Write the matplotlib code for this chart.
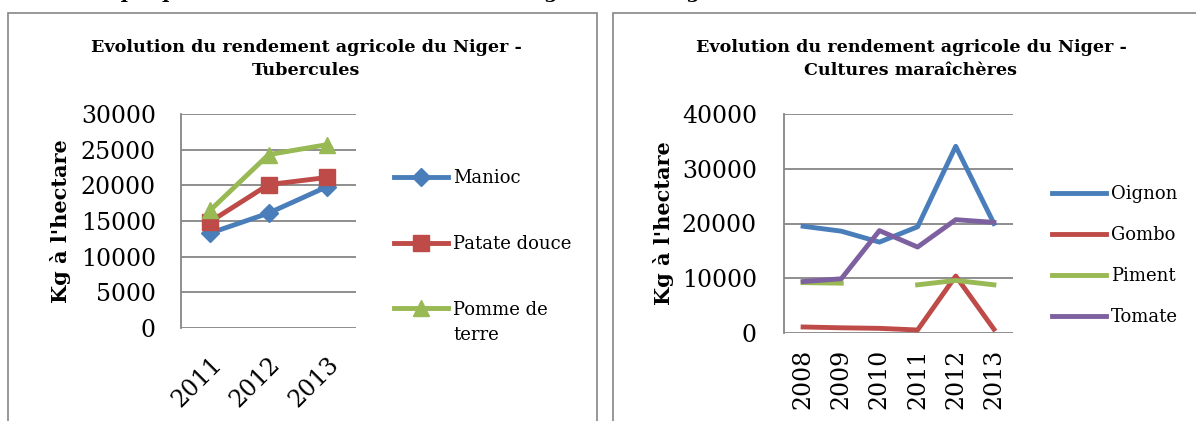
import matplotlib
matplotlib.use('Agg')
import matplotlib.pyplot as plt
from matplotlib.patches import Rectangle
import numpy as np

plt.rcParams['font.family'] = 'DejaVu Serif'

# tubercules
years_tub = ['2011', '2012', '2013']
manioc = [13300, 16100, 19800]
patate_douce = [14900, 20100, 21100]
pomme_de_terre = [16500, 24300, 25700]

# cultures maraicheres
years_mar = ['2008', '2009', '2010', '2011', '2012', '2013']
oignon = [19500, 18600, 16600, 19400, 34100, 20000]
gombo = [1100, 950, 850, 550, 10400, 700]
piment = [9200, 9100, np.nan, 8800, 9600, 8800]
tomate = [9400, 9900, 18700, 15700, 20700, 20200]

blue = '#4A7EBB'
red = '#BE4B48'
green = '#98B954'
purple = '#7D60A0'
grid_col = '#868686'

W, H = 1196, 421
fig = plt.figure(figsize=(W / 100, H / 100), dpi=100)


def fx(px):
    return px / W


def fy(py):
    return 1 - py / H


# panel frames
fig.patches.append(Rectangle((fx(8), fy(440)), fx(597 - 8), fy(13) - fy(440),
                             transform=fig.transFigure, fill=False,
                             edgecolor=grid_col, lw=1.2))
fig.patches.append(Rectangle((fx(613), fy(440)), fx(620), fy(13) - fy(440),
                             transform=fig.transFigure, fill=False,
                             edgecolor=grid_col, lw=1.2))

# main title, cut off at the top of the picture
fig.text(fx(608), 1 + 2 / H,
         'Graphique n°1 : Evolution du rendement agricole du Niger - Tubercules et Cultures maraîchères',
         ha='center', va='baseline', fontsize=14, fontweight='bold')

# chart titles
fig.text(fx(306), fy(59), "Evolution du rendement agricole du Niger -\nTubercules",
         ha='center', va='center', fontsize=12.6, fontweight='bold', linespacing=1.4)
fig.text(fx(911), fy(59), "Evolution du rendement agricole du Niger -\nCultures maraîchères",
         ha='center', va='center', fontsize=12.6, fontweight='bold', linespacing=1.4)


def style_axes(ax, ymax, step, ypad, label_x):
    ax.set_ylim(0, ymax)
    ax.set_yticks(np.arange(0, ymax + 1, step))
    ax.yaxis.grid(True, color=grid_col, lw=1.3)
    ax.set_axisbelow(True)
    for s in ['top', 'right', 'bottom']:
        ax.spines[s].set_visible(False)
    ax.spines['left'].set_color(grid_col)
    ax.spines['left'].set_linewidth(1.3)
    ax.tick_params(length=0, labelsize=17)
    ax.tick_params(axis='y', pad=ypad)
    ax.set_ylabel("Kg à l'hectare", fontsize=15, fontweight='bold')
    ax.yaxis.set_label_coords(label_x, 0.5)


# left chart
ax1 = fig.add_axes([fx(181), fy(328), fx(356 - 181), fy(114) - fy(328)])
x1 = np.arange(len(years_tub))
ax1.plot(x1, manioc, color=blue, lw=3.5, marker='D', ms=9, label='Manioc')
ax1.plot(x1, patate_douce, color=red, lw=3.5, marker='s', ms=12, label='Patate douce')
ax1.plot(x1, pomme_de_terre, color=green, lw=3.5, marker='^', ms=12, label='Pomme de')
ax1.set_xlim(-0.5, 2.5)
ax1.set_xticks(x1)
ax1.set_xticklabels(years_tub, rotation=45, ha='right', rotation_mode='anchor')
style_axes(ax1, 30000, 5000, 18, -0.63)
ax1.tick_params(axis='x', pad=18)
ax1.legend(loc='upper left', bbox_to_anchor=(fx(394), fy(169)),
           bbox_transform=fig.transFigure, frameon=False, fontsize=13,
           handlelength=3.0, handletextpad=0.25, labelspacing=2.65,
           borderpad=0, borderaxespad=0)
# second line of the last legend label
fig.text(fx(453), fy(335), 'terre', ha='left', va='center', fontsize=13)

# right chart
ax2 = fig.add_axes([fx(784), fy(333), fx(1013 - 784), fy(114) - fy(333)])
x2 = np.arange(len(years_mar))
ax2.plot(x2, oignon, color=blue, lw=3.5, label='Oignon')
ax2.plot(x2, gombo, color=red, lw=3.5, label='Gombo')
ax2.plot(x2, piment, color=green, lw=3.5, label='Piment')
ax2.plot(x2, tomate, color=purple, lw=3.5, label='Tomate')
ax2.set_xlim(-0.5, 5.5)
ax2.set_xticks(x2)
ax2.set_xticklabels(years_mar, rotation=90)
style_axes(ax2, 40000, 10000, 19.5, -0.48)
ax2.tick_params(axis='x', pad=11)
ax2.legend(loc='upper left', bbox_to_anchor=(fx(1052), fy(185)),
           bbox_transform=fig.transFigure, frameon=False, fontsize=13,
           handlelength=3.0, handletextpad=0.25, labelspacing=1.28,
           borderpad=0, borderaxespad=0)

fig.savefig('out.png', dpi=100)
